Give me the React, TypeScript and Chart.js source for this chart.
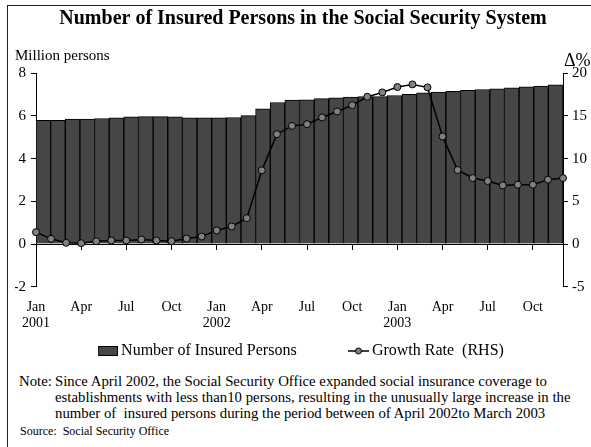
import React, { useEffect, useRef } from 'react';
import { Chart, registerables } from 'chart.js';

Chart.register(...registerables);

const FONT = "'Liberation Serif', 'Times New Roman', Times, serif";

const TITLE = 'Number of Insured Persons in the Social Security System';
const LEFT_AXIS_TITLE = 'Million persons';
const RIGHT_AXIS_TITLE = 'Δ%';
const SERIES_NAMES = ['Number of Insured Persons', 'Growth Rate  (RHS)'];

const CATEGORIES = [
  'Jan 2001', 'Feb 2001', 'Mar 2001', 'Apr 2001', 'May 2001', 'Jun 2001',
  'Jul 2001', 'Aug 2001', 'Sep 2001', 'Oct 2001', 'Nov 2001', 'Dec 2001',
  'Jan 2002', 'Feb 2002', 'Mar 2002', 'Apr 2002', 'May 2002', 'Jun 2002',
  'Jul 2002', 'Aug 2002', 'Sep 2002', 'Oct 2002', 'Nov 2002', 'Dec 2002',
  'Jan 2003', 'Feb 2003', 'Mar 2003', 'Apr 2003', 'May 2003', 'Jun 2003',
  'Jul 2003', 'Aug 2003', 'Sep 2003', 'Oct 2003', 'Nov 2003', 'Dec 2003',
];

// Million persons (left axis)
const INSURED_PERSONS = [
  5.80, 5.80, 5.85, 5.85, 5.88, 5.91, 5.96, 5.97, 5.97, 5.96, 5.91, 5.91,
  5.91, 5.93, 6.02, 6.33, 6.63, 6.74, 6.76, 6.81, 6.85, 6.88, 6.91, 6.91,
  6.96, 7.01, 7.09, 7.12, 7.15, 7.20, 7.24, 7.27, 7.32, 7.37, 7.40, 7.46,
];

// Growth rate, % (right axis)
const GROWTH_RATE = [
  1.39, 0.61, 0.14, 0.10, 0.33, 0.41, 0.41, 0.53, 0.41, 0.33, 0.65, 0.88,
  1.59, 2.06, 3.03, 8.64, 12.87, 13.84, 14.04, 14.83, 15.53, 16.27, 17.25, 17.76,
  18.39, 18.70, 18.35, 12.60, 8.67, 7.73, 7.38, 6.87, 6.95, 6.95, 7.54, 7.73,
];

const X_TICK_LABELS: string[][] = [
  ['Jan', '2001'], ['Apr'], ['Jul'], ['Oct'],
  ['Jan', '2002'], ['Apr'], ['Jul'], ['Oct'],
  ['Jan', '2003'], ['Apr'], ['Jul'], ['Oct'],
];
const X_TICK_EVERY = 3;

const NOTE_LABEL = 'Note:';
const NOTE_LINES = [
  'Since April 2002, the Social Security Office expanded social insurance coverage to',
  'establishments with less than10 persons, resulting in the unusually large increase in the',
  'number of  insured persons during the period between of April 2002to March 2003',
];
const SOURCE = 'Source:  Social Security Office';

const BAR_FILL = '#464646';
const POINT_FILL = '#808080';

function makeBarSwatch(): HTMLCanvasElement {
  const c = document.createElement('canvas');
  c.width = 21;
  c.height = 10;
  const g = c.getContext('2d')!;
  g.fillStyle = BAR_FILL;
  g.fillRect(1, 0, 20, 10);
  g.strokeStyle = '#000';
  g.lineWidth = 1;
  g.strokeRect(1.5, 0.5, 19, 9);
  return c;
}

function makeLineSwatch(): HTMLCanvasElement {
  const c = document.createElement('canvas');
  c.width = 21;
  c.height = 10;
  const g = c.getContext('2d')!;
  g.strokeStyle = '#000';
  g.lineWidth = 1.5;
  g.beginPath();
  g.moveTo(0, 5);
  g.lineTo(21, 5);
  g.stroke();
  g.beginPath();
  g.arc(10.5, 5, 3, 0, Math.PI * 2);
  g.fillStyle = POINT_FILL;
  g.fill();
  g.lineWidth = 1;
  g.stroke();
  return c;
}

const everyThird = (s: any) => {
  s.ticks = s.ticks.filter((t: any) => t.value % X_TICK_EVERY === 0);
};

export default function App() {
  const ref = useRef<HTMLCanvasElement>(null);

  useEffect(() => {
    const barSwatch = makeBarSwatch();
    const lineSwatch = makeLineSwatch();
    const chart = new Chart(ref.current!, {
      type: 'bar',
      data: {
        labels: CATEGORIES,
        datasets: [
          {
            type: 'line',
            label: SERIES_NAMES[1],
            data: GROWTH_RATE,
            xAxisID: 'x2',
            yAxisID: 'y2',
            order: 0,
            borderColor: '#000',
            borderWidth: 1.5,
            pointRadius: 3.5,
            pointBackgroundColor: POINT_FILL,
            pointBorderColor: '#000',
            pointBorderWidth: 1,
            tension: 0,
            clip: false as any,
          } as any,
          {
            type: 'bar',
            label: SERIES_NAMES[0],
            data: INSURED_PERSONS,
            xAxisID: 'x',
            yAxisID: 'y',
            order: 1,
            backgroundColor: BAR_FILL,
            borderColor: '#000',
            borderWidth: 1,
            categoryPercentage: 1.0,
            barPercentage: 1.0,
            grouped: false,
          } as any,
        ],
      },
      options: {
        animation: false,
        responsive: false,
        events: [],
        datasets: {
          bar: { categoryPercentage: 1.0, barPercentage: 1.0 },
        },
        layout: { padding: { left: 15, right: 0, top: 0, bottom: 0 } },
        plugins: {
          title: {
            display: true,
            text: TITLE,
            color: '#000',
            font: { family: FONT, size: 20, weight: 'bold' },
            padding: { top: 7, bottom: 42.3 },
          },
          legend: {
            position: 'bottom',
            onClick: () => {},
            labels: {
              usePointStyle: true,
              pointStyleWidth: 11,
              padding: 56.3,
              color: '#000',
              font: { family: FONT, size: 16 },
              generateLabels: () => [
                {
                  text: SERIES_NAMES[0],
                  pointStyle: barSwatch as any,
                  fillStyle: BAR_FILL,
                  strokeStyle: '#000',
                  lineWidth: 1,
                  hidden: false,
                  datasetIndex: 1,
                  fontColor: '#000',
                },
                {
                  text: SERIES_NAMES[1],
                  pointStyle: lineSwatch as any,
                  fillStyle: POINT_FILL,
                  strokeStyle: '#000',
                  lineWidth: 1,
                  hidden: false,
                  datasetIndex: 0,
                  fontColor: '#000',
                },
              ],
            },
          },
          tooltip: { enabled: false },
        },
        scales: {
          x: {
            type: 'category',
            display: false,
            offset: true,
          },
          x2: {
            type: 'category',
            axis: 'x',
            position: { y: 0 } as any,
            offset: false,
            grid: {
              display: true,
              offset: false,
              drawOnChartArea: false,
              drawTicks: true,
              tickLength: 5,
              color: '#000',
              lineWidth: 1,
            },
            border: { display: true, color: '#000', width: 1 },
            ticks: { display: false, autoSkip: false },
            afterBuildTicks: everyThird,
          } as any,
          x3: {
            type: 'category',
            axis: 'x',
            position: { y: -2 } as any,
            offset: false,
            grid: { display: false, drawTicks: false, offset: false },
            border: { display: false },
            ticks: {
              autoSkip: false,
              maxRotation: 0,
              minRotation: 0,
              padding: 12.2,
              color: '#000',
              font: { family: FONT, size: 14, lineHeight: 1.15 },
              callback: (v: any) => X_TICK_LABELS[Math.round(Number(v) / X_TICK_EVERY)],
            },
            afterBuildTicks: everyThird,
          } as any,
          y: {
            position: 'left',
            min: -2,
            max: 8,
            ticks: {
              stepSize: 2,
              color: '#000',
              padding: 5,
              font: { family: FONT, size: 15 },
            },
            grid: {
              drawOnChartArea: false,
              drawTicks: true,
              tickLength: 5,
              color: '#000',
            },
            border: { display: true, color: '#000', width: 1 },
            afterFit: (s: any) => {
              s.width = 21;
            },
          } as any,
          y2: {
            position: 'right',
            min: -5,
            max: 20,
            ticks: {
              stepSize: 5,
              color: '#000',
              padding: 4,
              font: { family: FONT, size: 15 },
            },
            grid: {
              drawOnChartArea: false,
              drawTicks: true,
              tickLength: 5,
              color: '#000',
            },
            border: { display: true, color: '#000', width: 1 },
            afterFit: (s: any) => {
              s.width = 28;
            },
          } as any,
        },
      } as any,
    });
    return () => chart.destroy();
  }, []);

  return (
    <div
      style={{
        position: 'absolute',
        left: 0,
        top: 0,
        width: 591,
        height: 447,
        overflow: 'hidden',
        background: '#fff',
        fontFamily: FONT,
        color: '#000',
      }}
    >
      <div
        style={{
          position: 'absolute',
          left: 7,
          top: 5,
          width: 700,
          height: 600,
          borderLeft: '1.5px solid #222',
          borderTop: '1.5px solid #222',
        }}
      />
      <canvas
        ref={ref}
        width={591}
        height={369}
        style={{ position: 'absolute', left: 0, top: 0, width: 591, height: 369, display: 'block' }}
      />
      <div style={{ position: 'absolute', left: 15, top: 46, fontSize: 15, lineHeight: '18px', whiteSpace: 'nowrap' }}>
        {LEFT_AXIS_TITLE}
      </div>
      <div style={{ position: 'absolute', left: 564, top: 51, fontSize: 18, lineHeight: '18px', whiteSpace: 'nowrap' }}>
        {RIGHT_AXIS_TITLE}
      </div>
      <div style={{ position: 'absolute', left: 19, top: 373, fontSize: 14.8, lineHeight: '16px', whiteSpace: 'pre' }}>
        {NOTE_LABEL}
      </div>
      <div style={{ position: 'absolute', left: 55, top: 373, fontSize: 14.8, lineHeight: '16px', whiteSpace: 'pre' }}>
        {NOTE_LINES.map((l, i) => (
          <div key={i}>{l}</div>
        ))}
      </div>
      <div style={{ position: 'absolute', left: 20, top: 423, fontSize: 12, lineHeight: '16px', whiteSpace: 'pre' }}>
        {SOURCE}
      </div>
    </div>
  );
}
